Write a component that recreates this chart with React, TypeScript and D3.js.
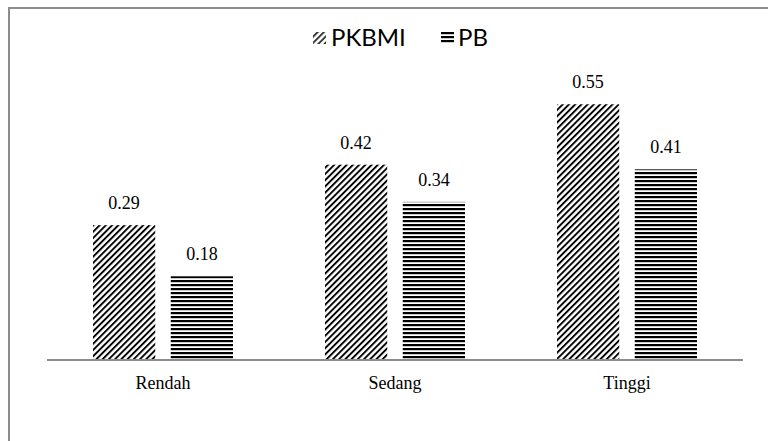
import React from "react";
import * as d3 from "d3";

const categories = ["Rendah", "Sedang", "Tinggi"];
const series = ["PKBMI", "PB"];
const pkbmi = [0.29, 0.42, 0.55];
const pb = [0.18, 0.34, 0.41];
const valueLists = [pkbmi, pb];

const W = 768;
const H = 441;

export default function App() {
  const x0 = d3.scaleBand<string>().domain(categories).range([47, 743]).paddingInner(0).paddingOuter(0);
  const groupW = 140;
  const x1 = d3.scaleBand<string>().domain(series).range([0, groupW]).paddingInner(0.2).paddingOuter(0);
  const y = d3.scaleLinear().domain([0, 0.6]).range([360, 81]);
  const fills = ["url(#diag)", "url(#horiz)"];

  return (
    <svg width={W} height={H} style={{ position: "absolute", left: 0, top: 0 }}>
      <defs>
        <pattern id="diag" patternUnits="userSpaceOnUse" width="4.4" height="4.4" patternTransform="rotate(45)">
          <rect width="4.4" height="4.4" fill="#fff" />
          <rect x="0" y="0" width="1.9" height="4.4" fill="#000" />
        </pattern>
        <pattern id="horiz" patternUnits="userSpaceOnUse" width="8" height="4">
          <rect width="8" height="4" fill="#fff" />
          <rect x="0" y="0" width="8" height="2.2" fill="#000" />
        </pattern>
      </defs>
      <rect x={0} y={0} width={W} height={H} fill="#fff" />
      <path d={`M9,${H + 5} V8 H${W + 5}`} fill="none" stroke="#8c8c8c" strokeWidth={2} />

      {/* legend */}
      <g fontFamily="Lato, 'Open Sans', sans-serif" fontSize={24} fill="#000">
        <rect x={313} y={32} width={13} height={12} fill="url(#diag)" opacity={0.8} />
        <text x={331} y={46}>{series[0]}</text>
        <rect x={441} y={32} width={13} height={12} fill="url(#horiz)" />
        <text x={458} y={46}>{series[1]}</text>
      </g>

      {categories.map((c, ci) => {
        const gx = (x0(c) as number) + (x0.bandwidth() - groupW) / 2;
        return (
          <g key={c}>
            {series.map((s, si) => {
              const v = valueLists[si][ci];
              const bx = gx + (x1(s) as number);
              const bw = x1.bandwidth();
              return (
                <g key={s}>
                  <rect x={bx} y={y(v)} width={bw} height={y(0) - y(v)} fill={fills[si]} />
                  <text
                    x={bx + bw / 2}
                    y={y(v) - 16}
                    textAnchor="middle"
                    fontFamily="'Liberation Serif', 'Times New Roman', serif"
                    fontSize={18}
                  >
                    {v.toFixed(2)}
                  </text>
                </g>
              );
            })}
            <text
              x={(x0(c) as number) + x0.bandwidth() / 2}
              y={389}
              textAnchor="middle"
              fontFamily="'Liberation Serif', 'Times New Roman', serif"
              fontSize={18}
            >
              {c}
            </text>
          </g>
        );
      })}

      <line x1={47} x2={743} y1={y(0)} y2={y(0)} stroke="#8c8c8c" strokeWidth={2} />
    </svg>
  );
}
